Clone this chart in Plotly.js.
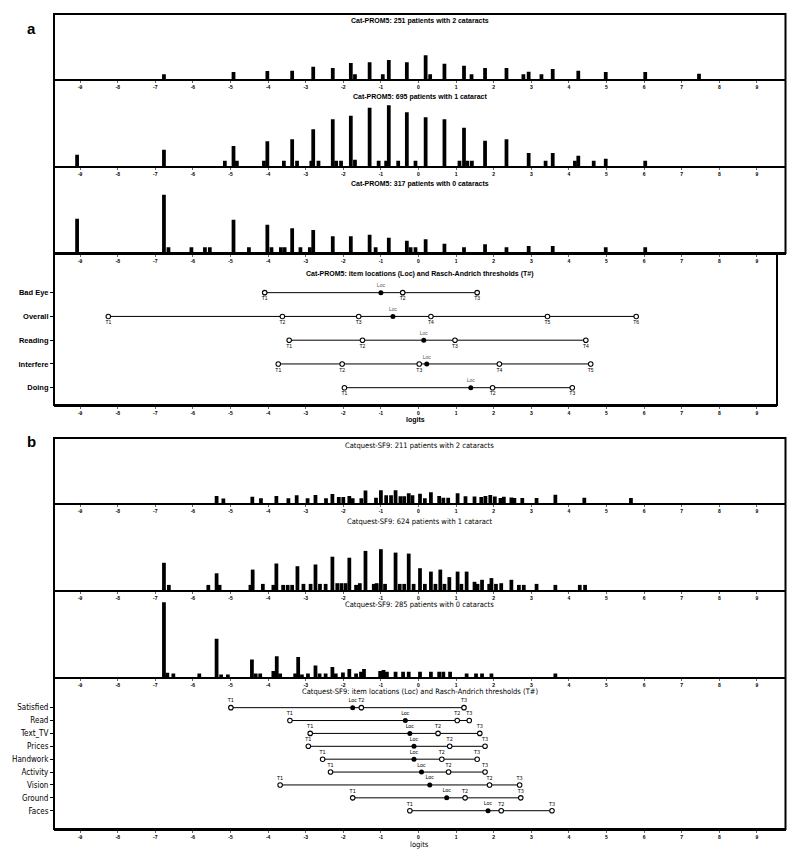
<!DOCTYPE html>
<html>
<head>
<meta charset="utf-8">
<script src="https://cdn.plot.ly/plotly-3.0.1.min.js"></script>
<style>html,body{margin:0;padding:0;background:#fff}#chart{width:800px;height:860px}</style>
</head>
<body>
<div id="chart"></div>
<script>
// ---- data (logit position, bar height) ----
const logitTicks = [-9, -8, -7, -6, -5, -4, -3, -2, -1, 0, 1, 2, 3, 4, 5, 6, 7, 8, 9];

// Panel a: Cat-PROM5 person distributions
const a1Pos = [-6.77, -4.92, -4.02, -3.36, -2.80, -2.28, -1.80, -1.69, -1.30, -0.95, -0.79, -0.31, 0.19, 0.31, 0.69, 1.21, 1.41, 1.77, 2.34, 2.79, 2.93, 3.27, 3.57, 4.25, 4.98, 6.03, 7.46];
const a1Freq = [4.7, 7, 8, 8.3, 12.3, 11, 16, 4.7, 16.7, 4.7, 19, 16.7, 23.7, 4.7, 15.3, 13.3, 4.7, 11, 11, 4.7, 7.3, 4.7, 10, 8.3, 7, 7, 5.3];

const a2Pos = [-9.08, -6.77, -5.15, -4.92, -4.83, -4.11, -4.02, -3.58, -3.36, -3.23, -2.85, -2.80, -2.66, -2.28, -2.19, -2.06, -1.80, -1.69, -1.30, -1.06, -0.86, -0.79, -0.54, -0.31, -0.08, 0.19, 0.69, 1.09, 1.21, 1.30, 1.42, 1.77, 2.34, 2.93, 3.38, 3.57, 4.16, 4.25, 4.66, 4.98, 6.03];
const a2Freq = [11.3, 16.3, 5.3, 20, 5.3, 5.3, 24.7, 5.3, 26.7, 5.3, 5.3, 36.7, 5.3, 46.7, 5.3, 5.3, 50.3, 6.3, 58.3, 5.3, 5.3, 60.7, 5.3, 53.7, 5.3, 48.7, 46.7, 5.3, 38.3, 5.3, 5.3, 25.3, 26.7, 13, 5.3, 13, 5.3, 10.3, 5.3, 7.3, 5.3];

const a3Pos = [-9.08, -6.77, -6.65, -6.04, -5.68, -5.55, -4.92, -4.51, -4.02, -3.91, -3.66, -3.56, -3.36, -3.14, -2.89, -2.80, -2.28, -1.80, -1.30, -1.14, -0.79, -0.31, -0.21, -0.08, 0.19, 0.69, 1.21, 1.77, 2.34, 2.93, 3.57, 4.98, 6.03];
const a3Freq = [34.3, 58.3, 5.7, 5.7, 5.7, 5.7, 33.3, 5.7, 28.3, 5.7, 5.7, 5.7, 24.7, 5.7, 5.7, 23, 16.7, 16.7, 18.3, 5.7, 15.3, 12.3, 5.7, 5.7, 13.7, 9.3, 5.7, 8.7, 5.7, 7, 7, 5.7, 5.7];

const itemsA = ['Bad Eye', 'Overall', 'Reading', 'Interfere', 'Doing'];
const locA = [-1.00, -0.68, 0.14, 0.22, 1.39];
const thrA = [
  [-4.09, -0.42, 1.56],
  [-8.25, -3.62, -1.59, 0.33, 3.43, 5.79],
  [-3.44, -1.49, 0.97, 4.45],
  [-3.73, -2.03, 0.02, 2.15, 4.58],
  [-1.97, 1.97, 4.09]
];

// Panel b: Catquest-SF9 person distributions
const b1Pos = [-5.37, -5.19, -4.42, -4.19, -3.78, -3.46, -3.24, -2.95, -2.74, -2.46, -2.29, -2.12, -2.00, -1.84, -1.75, -1.52, -1.41, -1.13, -1.00, -0.86, -0.73, -0.61, -0.48, -0.38, -0.26, -0.16, 0.04, 0.17, 0.33, 0.55, 0.66, 0.79, 1.04, 1.25, 1.49, 1.67, 1.78, 1.91, 2.03, 2.18, 2.27, 2.47, 2.55, 2.76, 3.14, 3.64, 4.41, 5.65];
const b1Freq = [7.1, 4.4, 6.2, 4.7, 7.1, 4.7, 7.7, 4.7, 8, 4.7, 8.9, 5.9, 5.9, 7.1, 4.7, 4.7, 12.4, 5.3, 12.7, 7.7, 7.7, 12.7, 6.8, 6.8, 9.8, 7.7, 9.2, 4.7, 10.7, 7.1, 5.3, 5.3, 9.8, 6.8, 6.5, 5.9, 7.1, 8, 6.5, 5, 6.2, 5.6, 5, 5, 5, 8.3, 5.3, 5];

const b2Pos = [-6.77, -6.64, -5.59, -5.37, -5.29, -4.47, -4.41, -4.14, -3.86, -3.78, -3.60, -3.48, -3.36, -3.22, -3.06, -2.87, -2.74, -2.62, -2.47, -2.29, -2.16, -2.05, -1.94, -1.84, -1.66, -1.56, -1.41, -1.19, -1.11, -1.00, -0.89, -0.61, -0.50, -0.38, -0.26, -0.13, 0.04, 0.17, 0.33, 0.45, 0.58, 0.69, 0.82, 1.04, 1.14, 1.28, 1.49, 1.57, 1.69, 1.88, 1.94, 2.06, 2.20, 2.47, 2.67, 2.80, 3.14, 3.64, 4.29, 4.43];
const b2Freq = [27.2, 5.1, 5.1, 16.7, 5.1, 5.1, 20.4, 6.1, 5.1, 26.5, 5.1, 5.1, 5.1, 23.8, 6.1, 6.1, 25.5, 6.1, 6.1, 33.3, 6.8, 6.8, 6.8, 32.3, 5.1, 6.8, 39.1, 6.1, 6.8, 40.8, 6.1, 37.4, 6.1, 6.1, 36.4, 6.1, 21.8, 6.1, 18.4, 6.1, 20.4, 6.1, 12.9, 18.4, 6.1, 18.4, 8.2, 6.1, 10.2, 6.1, 11.9, 6.1, 6.8, 10.2, 5.1, 5.1, 6.1, 5.1, 5.1, 5.1];

const b3Pos = [-6.77, -6.68, -6.52, -5.83, -5.37, -5.25, -5.07, -4.43, -4.33, -4.21, -3.86, -3.77, -3.68, -3.28, -3.20, -3.10, -2.94, -2.74, -2.63, -2.47, -2.29, -2.20, -2.01, -1.84, -1.66, -1.53, -1.45, -1.02, -0.93, -0.84, -0.61, -0.41, -0.26, 0.04, 0.33, 0.55, 0.66, 0.84, 1.28, 1.53, 1.69, 1.94, 3.64];
const b3Freq = [74.7, 4.2, 3.5, 3.5, 38.2, 2.4, 2.4, 17.4, 3.5, 3.5, 5.9, 20.8, 3.5, 3.5, 20.1, 2.4, 3.5, 11.5, 3.5, 3.5, 10.1, 3.5, 4.5, 8, 3.5, 5.2, 8, 5.9, 6.9, 5.2, 5.2, 5.2, 5.2, 5.2, 5.2, 5.2, 5.2, 5.2, 3.5, 3.5, 3.5, 3.5, 3.5];

const itemsB = ['Satisfied', 'Read', 'Text_TV', 'Prices', 'Handwork', 'Activity', 'Vision', 'Ground', 'Faces'];
const locB = [-1.75, -0.35, -0.23, -0.12, -0.12, 0.08, 0.30, 0.75, 1.85];
const thrB = [
  [-4.99, -1.52, 1.21],
  [-3.42, 1.03, 1.35],
  [-2.88, 0.52, 1.63],
  [-2.93, 0.83, 1.77],
  [-2.55, 0.62, 1.56],
  [-2.34, 0.80, 1.77],
  [-3.68, 1.89, 2.69],
  [-1.75, 1.24, 2.72],
  [-0.23, 2.20, 3.55]
];

// ---- layout helpers ----
const W = 800, H = 860;
const px = x => x / W;
const py = y => 1 - y / H;
const toLogit = x => (x - 418.5) / 37.6;
const LEFT = 54, RIGHT = 785.5;

const ARIAL = 'Liberation Sans, Arial, sans-serif';
const NARROW = 'Liberation Sans Narrow, Arial Narrow, DejaVu Sans Condensed, sans-serif';

const traces = [];
const layout = {
  width: W, height: H,
  margin: {l: 0, r: 0, t: 0, b: 0},
  paper_bgcolor: '#fff', plot_bgcolor: 'rgba(0,0,0,0)',
  showlegend: false,
  shapes: [], annotations: []
};

let axN = 0;
function nextAxes(top, bottom, right) {
  axN++;
  const s = axN === 1 ? '' : String(axN);
  const r = right || RIGHT;
  layout['xaxis' + s] = {
    domain: [px(LEFT), px(r)], range: [toLogit(LEFT), toLogit(r)],
    anchor: 'y' + s, showline: true, linewidth: 2, linecolor: '#000',
    tickvals: logitTicks, ticktext: logitTicks.map(String),
    ticks: 'outside', ticklen: 2, tickcolor: '#000', tickwidth: 0.6,
    tickfont: {size: 5, family: ARIAL, weight: 'bold', color: '#000'},
    showgrid: false, zeroline: false, fixedrange: true
  };
  layout['yaxis' + s] = {
    domain: [py(bottom), py(top)], anchor: 'x' + s,
    showgrid: false, zeroline: false, fixedrange: true
  };
  return s;
}

function addHist(top, bottom, xs, ys, title, titleY, font) {
  const s = nextAxes(top, bottom);
  Object.assign(layout['yaxis' + s], {range: [0, bottom - top], visible: false});
  traces.push({
    type: 'bar', x: xs, y: ys, width: 0.1,
    xaxis: 'x' + s, yaxis: 'y' + s,
    marker: {color: '#000', line: {width: 0}}, hoverinfo: 'skip'
  });
  layout.annotations.push({
    xref: 'paper', yref: 'paper', x: px((LEFT + RIGHT) / 2), y: py(titleY),
    text: title, showarrow: false, font: font, xanchor: 'center', yanchor: 'middle'
  });
}

function addItemMap(top, bottom, right, items, locs, thrs, opt) {
  const s = nextAxes(top, bottom, right);
  const n = items.length;
  Object.assign(layout['yaxis' + s], {
    range: opt.yRange, tickvals: items.map((_, i) => n - i), ticktext: items,
    ticks: 'outside', ticklen: 3, tickcolor: '#000', showline: false,
    tickfont: opt.labelFont
  });
  items.forEach((name, i) => {
    const yv = n - i;
    const all = thrs[i].concat([locs[i]]);
    traces.push({
      type: 'scatter', mode: 'lines', xaxis: 'x' + s, yaxis: 'y' + s,
      x: [Math.min(...all), Math.max(...all)], y: [yv, yv],
      line: {color: '#000', width: 1}, hoverinfo: 'skip'
    });
    traces.push({
      type: 'scatter', mode: 'markers+text', xaxis: 'x' + s, yaxis: 'y' + s,
      x: thrs[i], y: thrs[i].map(() => yv),
      text: thrs[i].map((_, k) => 'T' + (k + 1)), textposition: opt.tPos,
      textfont: opt.tFont,
      marker: {symbol: 'circle', size: 4.5, color: '#fff', line: {color: '#000', width: 1.1}},
      hoverinfo: 'skip', cliponaxis: false
    });
    traces.push({
      type: 'scatter', mode: 'markers+text', xaxis: 'x' + s, yaxis: 'y' + s,
      x: [locs[i]], y: [yv], text: ['Loc'], textposition: 'top center',
      textfont: opt.locFont,
      marker: {symbol: 'circle', size: 5, color: '#000'},
      hoverinfo: 'skip', cliponaxis: false
    });
  });
  layout.annotations.push({
    xref: 'paper', yref: 'paper', x: px((LEFT + RIGHT) / 2), y: py(opt.titleY),
    text: opt.title, showarrow: false, font: opt.titleFont, xanchor: 'center', yanchor: 'middle'
  });
  layout.annotations.push({
    xref: 'paper', yref: 'paper', x: px((LEFT + right) / 2), y: py(opt.logitsY),
    text: 'logits', showarrow: false, font: opt.titleFont, xanchor: 'center', yanchor: 'middle'
  });
}

function frame(top, bottom, right) {
  layout.shapes.push({
    type: 'rect', xref: 'paper', yref: 'paper',
    x0: px(LEFT), x1: px(right), y0: py(bottom), y1: py(top),
    line: {color: '#000', width: 2}, fillcolor: 'rgba(0,0,0,0)'
  });
}

// ---- panel a ----
const boldTitle = {size: 7, family: ARIAL, weight: 'bold', color: '#000'};
const A = 14;
const A_MAP_RIGHT = 777;
addHist(A, A + 65, a1Pos, a1Freq, 'Cat-PROM5: 251 patients with 2 cataracts', A + 7, boldTitle);
addHist(A + 65, A + 152, a2Pos, a2Freq, 'Cat-PROM5: 695 patients with 1 cataract', A + 83, boldTitle);
addHist(A + 152, A + 239, a3Pos, a3Freq, 'Cat-PROM5: 317 patients with 0 cataracts', A + 170, boldTitle);
addItemMap(A + 239, A + 391, A_MAP_RIGHT, itemsA, locA, thrA, {
  yRange: [0.272, 6.67],
  labelFont: {size: 7.5, family: ARIAL, weight: 'bold', color: '#000'},
  tPos: 'bottom center', tFont: {size: 5, family: ARIAL, color: '#000'},
  locFont: {size: 5, family: ARIAL, color: '#555'},
  title: 'Cat-PROM5: item locations (Loc) and Rasch-Andrich thresholds (T#)',
  titleY: A + 260, titleFont: boldTitle, logitsY: A + 406
});
frame(A, A + 239, RIGHT);
frame(A + 239, A + 391, A_MAP_RIGHT);

// ---- panel b ----
const narrowTitle = {size: 7.5, family: NARROW, color: '#000'};
const B = 438;
addHist(B, B + 65, b1Pos, b1Freq, 'Catquest-SF9: 211 patients with 2 cataracts', B + 7, narrowTitle);
addHist(B + 65, B + 152, b2Pos, b2Freq, 'Catquest-SF9: 624 patients with 1 cataract', B + 83, narrowTitle);
addHist(B + 152, B + 239, b3Pos, b3Freq, 'Catquest-SF9: 285 patients with 0 cataracts', B + 166, narrowTitle);
addItemMap(B + 239, B + 391, RIGHT, itemsB, locB, thrB, {
  yRange: [-0.42, 11.38],
  labelFont: {size: 8, family: NARROW, color: '#000'},
  tPos: 'top center', tFont: {size: 5.5, family: NARROW, color: '#000'},
  locFont: {size: 5.5, family: NARROW, color: '#000'},
  title: 'Catquest-SF9: item locations (Loc) and Rasch-Andrich thresholds (T#)',
  titleY: B + 253, titleFont: narrowTitle, logitsY: B + 406
});
frame(B, B + 391, RIGHT);

// panel letters
layout.annotations.push(
  {xref: 'paper', yref: 'paper', x: px(25), y: py(18), text: 'a', showarrow: false,
   font: {size: 15, family: ARIAL, weight: 'bold', color: '#000'}},
  {xref: 'paper', yref: 'paper', x: px(25), y: py(441), text: 'b', showarrow: false,
   font: {size: 15, family: ARIAL, weight: 'bold', color: '#000'}}
);

Plotly.newPlot('chart', traces, layout, {staticPlot: true});
</script>
</body>
</html>
